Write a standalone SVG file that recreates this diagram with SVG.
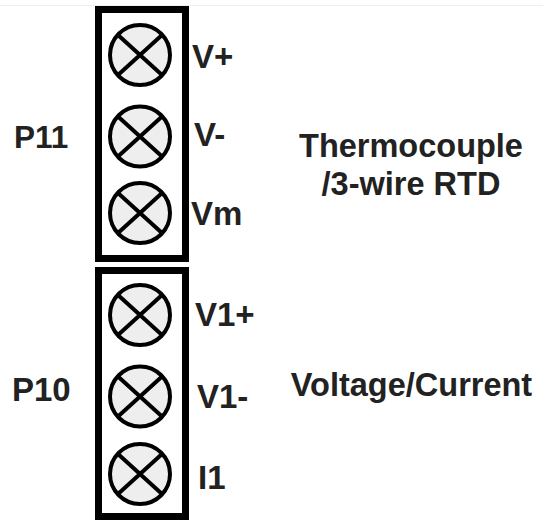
<svg xmlns="http://www.w3.org/2000/svg" width="543" height="520" viewBox="0 0 543 520">
<style>
.box{fill:#fff;stroke:#000;stroke-width:7}
.c{fill:#eee;stroke:#000;stroke-width:4}
.x{fill:none;stroke:#000;stroke-width:4}
text{font-family:"Liberation Sans",Arial,sans-serif;font-weight:700;fill:#222;font-size:33px}
.m{font-size:32.500px;text-anchor:middle}
</style>
<defs>
<g id="term"><circle class="c" r="30"/><path class="x" d="M-22 -20L22 20M22 -20L-22 20"/></g>
</defs>
<rect width="543" height="520" fill="#fff"/>
<path d="M0 5.500H543" stroke="#efefef" stroke-width="1"/>
<g id="P11">
<rect class="box" x="98.500" y="9.500" width="87" height="249"/>
<use href="#term" x="140" y="55"/>
<use href="#term" x="140" y="136.500"/>
<use href="#term" x="140" y="213"/>
<text x="14" y="148" style="font-size:31.500px">P11</text>
<text x="192" y="68">V+</text>
<text x="194" y="146">V-</text>
<text x="191" y="225">Vm</text>
</g>
<g id="P10">
<rect class="box" x="98.500" y="270.500" width="87" height="246"/>
<use href="#term" x="140" y="315"/>
<use href="#term" x="140" y="396.500"/>
<use href="#term" x="140" y="474"/>
<text x="12" y="401">P10</text>
<text x="195" y="326">V1+</text>
<text x="197" y="408">V1-</text>
<text x="198" y="489">I1</text>
</g>
<g id="labels">
<text class="m" x="411" y="157">Thermocouple</text>
<text class="m" x="411" y="195">/3-wire RTD</text>
<text class="m" x="411.500" y="396">Voltage/Current</text>
</g>
<g id="connectors"/>
</svg>
